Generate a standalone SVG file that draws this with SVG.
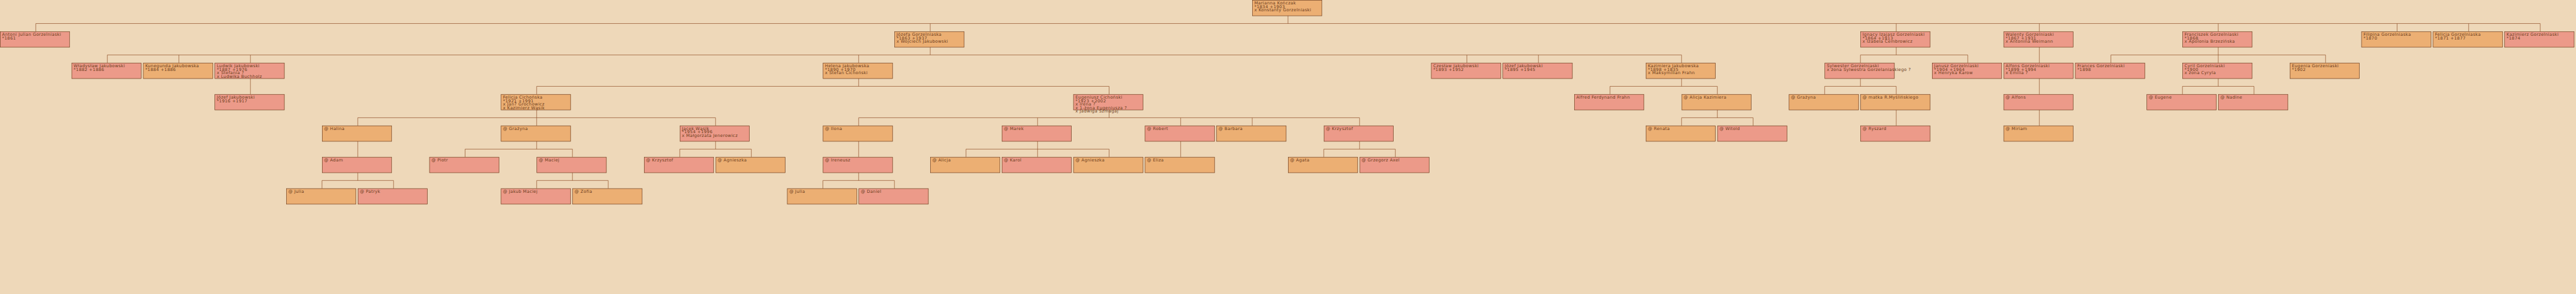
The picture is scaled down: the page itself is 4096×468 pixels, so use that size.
<svg xmlns="http://www.w3.org/2000/svg" width="4096" height="468" viewBox="0 0 4096 468">
<style>
.bg{fill:#EED8B9}
rect.m{fill:#EC9A89;stroke:#6B3A1A;stroke-width:1}
rect.f{fill:#ECAF73;stroke:#6B3A1A;stroke-width:1}
text{font-family:"DejaVu Sans","Liberation Sans",sans-serif;font-size:10px;letter-spacing:0.5px;fill:#6B3A1A}
.c path{fill:none;stroke:#8B4A22;stroke-width:1}
</style>
<rect class="bg" x="0" y="0" width="4096" height="468"/>
<g transform="scale(0.669281)">
<g class="c" id="connectors">
<path d="M3060,37.33V56M85,56H6035M85,56V74.67M2210,56V74.67M4505,56V74.67M4845,56V74.67M5270,56V74.67M5695,56V74.67M5865,56V74.67M6035,56V74.67"/>
<path d="M2210,112V130.67M255,130.67H3995M255,130.67V149.33M425,130.67V149.33M595,130.67V149.33M2040,130.67V149.33M3485,130.67V149.33M3655,130.67V149.33M3995,130.67V149.33"/>
<path d="M4505,112V130.67M4420,130.67H4675M4420,130.67V149.33M4675,130.67V149.33"/>
<path d="M4845,112V149.33"/>
<path d="M5270,112V130.67M5015,130.67H5525M5015,130.67V149.33M5270,130.67V149.33M5525,130.67V149.33"/>
<path d="M595,186.67V224"/>
<path d="M2040,186.67V205.33M1275,205.33H2635M1275,205.33V224M2635,205.33V224"/>
<path d="M3995,186.67V205.33M3825,205.33H4080M3825,205.33V224M4080,205.33V224"/>
<path d="M4420,186.67V205.33M4335,205.33H4505M4335,205.33V224M4505,205.33V224"/>
<path d="M4845,186.67V224"/>
<path d="M5270,186.67V205.33M5185,205.33H5355M5185,205.33V224M5355,205.33V224"/>
<path d="M1275,261.33V280M850,280H1700M850,280V298.67M1275,280V298.67M1700,280V298.67"/>
<path d="M2635,261.33V280M2040,280H3230M2040,280V298.67M2465,280V298.67M2805,280V298.67M2975,280V298.67M3230,280V298.67"/>
<path d="M4080,261.33V280M3995,280H4165M3995,280V298.67M4165,280V298.67"/>
<path d="M4505,261.33V298.67"/>
<path d="M4845,261.33V298.67"/>
<path d="M850,336V373.33"/>
<path d="M1275,336V354.67M1105,354.67H1360M1105,354.67V373.33M1360,354.67V373.33"/>
<path d="M1700,336V354.67M1615,354.67H1785M1615,354.67V373.33M1785,354.67V373.33"/>
<path d="M2040,336V373.33"/>
<path d="M2465,336V354.67M2295,354.67H2635M2295,354.67V373.33M2465,354.67V373.33M2635,354.67V373.33"/>
<path d="M2805,336V373.33"/>
<path d="M3230,336V354.67M3145,354.67H3315M3145,354.67V373.33M3315,354.67V373.33"/>
<path d="M850,410.67V429.33M765,429.33H935M765,429.33V448M935,429.33V448"/>
<path d="M1360,410.67V429.33M1275,429.33H1445M1275,429.33V448M1445,429.33V448"/>
<path d="M2040,410.67V429.33M1955,429.33H2125M1955,429.33V448M2125,429.33V448"/>
</g>

<g id="n_marianna"><rect class="f" x="2975.5" y="0.5" width="165" height="37"/><text x="2980" y="10.5"><tspan x="2980">Marianna Kończak</tspan><tspan x="2980" dy="8.33">*1834 +1903</tspan><tspan x="2980" dy="8.33">x Konstanty Gorzelniaski</tspan></text></g>

<g id="n_antoni"><rect class="m" x="0.5" y="75.17" width="165" height="37"/><text x="5" y="85.17"><tspan x="5">Antoni Julian Gorzelniaski</tspan><tspan x="5" dy="8.33">*1861</tspan></text></g>
<g id="n_jozefa"><rect class="f" x="2125.5" y="75.17" width="165" height="37"/><text x="2130" y="85.17"><tspan x="2130">Józefa Gorzelniaska</tspan><tspan x="2130" dy="8.33">*1863 +1937</tspan><tspan x="2130" dy="8.33">x Wojciech Jakubowski</tspan></text></g>
<g id="n_ignacy"><rect class="m" x="4420.5" y="75.17" width="165" height="37"/><text x="4425" y="85.17"><tspan x="4425">Ignacy Izajasz Gorzelniaski</tspan><tspan x="4425" dy="8.33">*1864 +1913</tspan><tspan x="4425" dy="8.33">x Izabela Cembrowicz</tspan></text></g>
<g id="n_walenty"><rect class="m" x="4760.5" y="75.17" width="165" height="37"/><text x="4765" y="85.17"><tspan x="4765">Walenty Gorzelniaski</tspan><tspan x="4765" dy="8.33">*1867 +1931</tspan><tspan x="4765" dy="8.33">x Antonina Weimann</tspan></text></g>
<g id="n_franciszek"><rect class="m" x="5185.5" y="75.17" width="165" height="37"/><text x="5190" y="85.17"><tspan x="5190">Franciszek Gorzelniaski</tspan><tspan x="5190" dy="8.33">*1868</tspan><tspan x="5190" dy="8.33">x Apolonia Brzezińska</tspan></text></g>
<g id="n_filipina"><rect class="f" x="5610.5" y="75.17" width="165" height="37"/><text x="5615" y="85.17"><tspan x="5615">Filipina Gorzelniaska</tspan><tspan x="5615" dy="8.33">*1870</tspan></text></g>
<g id="n_felicja_g"><rect class="f" x="5780.5" y="75.17" width="165" height="37"/><text x="5785" y="85.17"><tspan x="5785">Felicja Gorzelniaska</tspan><tspan x="5785" dy="8.33">*1871 +1877</tspan></text></g>
<g id="n_kazimierz"><rect class="m" x="5950.5" y="75.17" width="165" height="37"/><text x="5955" y="85.17"><tspan x="5955">Kazimierz Gorzelniaski</tspan><tspan x="5955" dy="8.33">*1874</tspan></text></g>

<g id="n_wladyslaw"><rect class="m" x="170.5" y="149.83" width="165" height="37"/><text x="175" y="159.83"><tspan x="175">Władysław Jakubowski</tspan><tspan x="175" dy="8.33">*1882 +1886</tspan></text></g>
<g id="n_kunegunda"><rect class="f" x="340.5" y="149.83" width="165" height="37"/><text x="345" y="159.83"><tspan x="345">Kunegunda Jakubowska</tspan><tspan x="345" dy="8.33">*1884 +1886</tspan></text></g>
<g id="n_ludwik"><rect class="m" x="510.5" y="149.83" width="165" height="37"/><text x="515" y="159.83"><tspan x="515">Ludwik Jakubowski</tspan><tspan x="515" dy="8.33">*1887 +1976</tspan><tspan x="515" dy="8.33">x Stefania ?</tspan><tspan x="515" dy="8.33">x Ludwika Buchholz</tspan></text></g>
<g id="n_helena"><rect class="f" x="1955.5" y="149.83" width="165" height="37"/><text x="1960" y="159.83"><tspan x="1960">Helena Jakubowska</tspan><tspan x="1960" dy="8.33">*1890 +1970</tspan><tspan x="1960" dy="8.33">x Stefan Cichoński</tspan></text></g>
<g id="n_czeslaw"><rect class="m" x="3400.5" y="149.83" width="165" height="37"/><text x="3405" y="159.83"><tspan x="3405">Czesław Jakubowski</tspan><tspan x="3405" dy="8.33">*1893 +1952</tspan></text></g>
<g id="n_jozef1"><rect class="m" x="3570.5" y="149.83" width="165" height="37"/><text x="3575" y="159.83"><tspan x="3575">Józef Jakubowski</tspan><tspan x="3575" dy="8.33">*1895 +1945</tspan></text></g>
<g id="n_kazimiera"><rect class="f" x="3910.5" y="149.83" width="165" height="37"/><text x="3915" y="159.83"><tspan x="3915">Kazimiera Jakubowska</tspan><tspan x="3915" dy="8.33">*1898 +1835</tspan><tspan x="3915" dy="8.33">x Maksymilian Frahn</tspan></text></g>
<g id="n_sylwester"><rect class="m" x="4335.5" y="149.83" width="165" height="37"/><text x="4340" y="159.83"><tspan x="4340">Sylwester Gorzelniaski</tspan><tspan x="4340" dy="8.33">x żona Sylwestra Gorzelaniaskiego ?</tspan></text></g>
<g id="n_janusz"><rect class="m" x="4590.5" y="149.83" width="165" height="37"/><text x="4595" y="159.83"><tspan x="4595">Janusz Gorzelniaski</tspan><tspan x="4595" dy="8.33">*1904 +1964</tspan><tspan x="4595" dy="8.33">x Henryka Karow</tspan></text></g>
<g id="n_alfons"><rect class="m" x="4760.5" y="149.83" width="165" height="37"/><text x="4765" y="159.83"><tspan x="4765">Alfons Gorzelniaski</tspan><tspan x="4765" dy="8.33">*1899 +1994</tspan><tspan x="4765" dy="8.33">x Emilia ?</tspan></text></g>
<g id="n_frances"><rect class="m" x="4930.5" y="149.83" width="165" height="37"/><text x="4935" y="159.83"><tspan x="4935">Frances Gorzelniaski</tspan><tspan x="4935" dy="8.33">*1898</tspan></text></g>
<g id="n_cyril"><rect class="m" x="5185.5" y="149.83" width="165" height="37"/><text x="5190" y="159.83"><tspan x="5190">Cyril Gorzelniaski</tspan><tspan x="5190" dy="8.33">*1900</tspan><tspan x="5190" dy="8.33">x żona Cyryla</tspan></text></g>
<g id="n_eugenia"><rect class="f" x="5440.5" y="149.83" width="165" height="37"/><text x="5445" y="159.83"><tspan x="5445">Eugenia Gorzeniaski</tspan><tspan x="5445" dy="8.33">*1902</tspan></text></g>

<g id="n_jozef2"><rect class="m" x="510.5" y="224.5" width="165" height="37"/><text x="515" y="234.5"><tspan x="515">Józef Jakubowski</tspan><tspan x="515" dy="8.33">*1916 +1917</tspan></text></g>
<g id="n_felicja_c"><rect class="f" x="1190.5" y="224.5" width="165" height="37"/><text x="1195" y="234.5"><tspan x="1195">Felicja Cichońska</tspan><tspan x="1195" dy="8.33">*1921 +1991</tspan><tspan x="1195" dy="8.33">x Jan? Grochowicz</tspan><tspan x="1195" dy="8.33">x Kazimierz Wąsik</tspan></text></g>
<g id="n_eugeniusz"><rect class="m" x="2550.5" y="224.5" width="165" height="37"/><text x="2555" y="234.5"><tspan x="2555">Eugeniusz Cichoński</tspan><tspan x="2555" dy="8.33">*1923 +2002</tspan><tspan x="2555" dy="8.33">x Irena ?</tspan><tspan x="2555" dy="8.33">x 1-żona Eugeniusza ?</tspan><tspan x="2555" dy="8.33">x Jadwiga Szmagaj</tspan></text></g>
<g id="n_alfred"><rect class="m" x="3740.5" y="224.5" width="165" height="37"/><text x="3745" y="234.5">Alfred Ferdynand Frahn</text></g>
<g id="n_alicja_k"><rect class="f" x="3995.5" y="224.5" width="165" height="37"/><text x="4000" y="234.5">@ Alicja Kazimiera</text></g>
<g id="n_grazyna2"><rect class="f" x="4250.5" y="224.5" width="165" height="37"/><text x="4255" y="234.5">@ Grażyna</text></g>
<g id="n_matka"><rect class="f" x="4420.5" y="224.5" width="165" height="37"/><text x="4425" y="234.5">@ matka R.Myślińskiego</text></g>
<g id="n_alfons2"><rect class="m" x="4760.5" y="224.5" width="165" height="37"/><text x="4765" y="234.5">@ Alfons</text></g>
<g id="n_eugene"><rect class="m" x="5100.5" y="224.5" width="165" height="37"/><text x="5105" y="234.5">@ Eugene</text></g>
<g id="n_nadine"><rect class="m" x="5270.5" y="224.5" width="165" height="37"/><text x="5275" y="234.5">@ Nadine</text></g>

<g id="n_halina"><rect class="f" x="765.5" y="299.17" width="165" height="37"/><text x="770" y="309.17">@ Halina</text></g>
<g id="n_grazyna1"><rect class="f" x="1190.5" y="299.17" width="165" height="37"/><text x="1195" y="309.17">@ Grażyna</text></g>
<g id="n_jacek"><rect class="m" x="1615.5" y="299.17" width="165" height="37"/><text x="1620" y="309.17"><tspan x="1620">Jacek Wąsik</tspan><tspan x="1620" dy="8.33">*1954 +1996</tspan><tspan x="1620" dy="8.33">x Małgorzata Jenerowicz</tspan></text></g>
<g id="n_ilona"><rect class="f" x="1955.5" y="299.17" width="165" height="37"/><text x="1960" y="309.17">@ Ilona</text></g>
<g id="n_marek"><rect class="m" x="2380.5" y="299.17" width="165" height="37"/><text x="2385" y="309.17">@ Marek</text></g>
<g id="n_robert"><rect class="m" x="2720.5" y="299.17" width="165" height="37"/><text x="2725" y="309.17">@ Robert</text></g>
<g id="n_barbara"><rect class="f" x="2890.5" y="299.17" width="165" height="37"/><text x="2895" y="309.17">@ Barbara</text></g>
<g id="n_krzysztof2"><rect class="m" x="3145.5" y="299.17" width="165" height="37"/><text x="3150" y="309.17">@ Krzysztof</text></g>
<g id="n_renata"><rect class="f" x="3910.5" y="299.17" width="165" height="37"/><text x="3915" y="309.17">@ Renata</text></g>
<g id="n_witold"><rect class="m" x="4080.5" y="299.17" width="165" height="37"/><text x="4085" y="309.17">@ Witold</text></g>
<g id="n_ryszard"><rect class="m" x="4420.5" y="299.17" width="165" height="37"/><text x="4425" y="309.17">@ Ryszard</text></g>
<g id="n_miriam"><rect class="f" x="4760.5" y="299.17" width="165" height="37"/><text x="4765" y="309.17">@ Miriam</text></g>

<g id="n_adam"><rect class="m" x="765.5" y="373.83" width="165" height="37"/><text x="770" y="383.83">@ Adam</text></g>
<g id="n_piotr"><rect class="m" x="1020.5" y="373.83" width="165" height="37"/><text x="1025" y="383.83">@ Piotr</text></g>
<g id="n_maciej"><rect class="m" x="1275.5" y="373.83" width="165" height="37"/><text x="1280" y="383.83">@ Maciej</text></g>
<g id="n_krzysztof1"><rect class="m" x="1530.5" y="373.83" width="165" height="37"/><text x="1535" y="383.83">@ Krzysztof</text></g>
<g id="n_agnieszka1"><rect class="f" x="1700.5" y="373.83" width="165" height="37"/><text x="1705" y="383.83">@ Agnieszka</text></g>
<g id="n_ireneusz"><rect class="m" x="1955.5" y="373.83" width="165" height="37"/><text x="1960" y="383.83">@ Ireneusz</text></g>
<g id="n_alicja"><rect class="f" x="2210.5" y="373.83" width="165" height="37"/><text x="2215" y="383.83">@ Alicja</text></g>
<g id="n_karol"><rect class="m" x="2380.5" y="373.83" width="165" height="37"/><text x="2385" y="383.83">@ Karol</text></g>
<g id="n_agnieszka2"><rect class="f" x="2550.5" y="373.83" width="165" height="37"/><text x="2555" y="383.83">@ Agnieszka</text></g>
<g id="n_eliza"><rect class="f" x="2720.5" y="373.83" width="165" height="37"/><text x="2725" y="383.83">@ Eliza</text></g>
<g id="n_agata"><rect class="f" x="3060.5" y="373.83" width="165" height="37"/><text x="3065" y="383.83">@ Agata</text></g>
<g id="n_grzegorz"><rect class="m" x="3230.5" y="373.83" width="165" height="37"/><text x="3235" y="383.83">@ Grzegorz Axel</text></g>

<g id="n_julia1"><rect class="f" x="680.5" y="448.5" width="165" height="37"/><text x="685" y="458.5">@ Julia</text></g>
<g id="n_patryk"><rect class="m" x="850.5" y="448.5" width="165" height="37"/><text x="855" y="458.5">@ Patryk</text></g>
<g id="n_jakub"><rect class="m" x="1190.5" y="448.5" width="165" height="37"/><text x="1195" y="458.5">@ Jakub Maciej</text></g>
<g id="n_zofia"><rect class="f" x="1360.5" y="448.5" width="165" height="37"/><text x="1365" y="458.5">@ Zofia</text></g>
<g id="n_julia2"><rect class="f" x="1870.5" y="448.5" width="165" height="37"/><text x="1875" y="458.5">@ Julia</text></g>
<g id="n_daniel"><rect class="m" x="2040.5" y="448.5" width="165" height="37"/><text x="2045" y="458.5">@ Daniel</text></g>
</g>
</svg>
